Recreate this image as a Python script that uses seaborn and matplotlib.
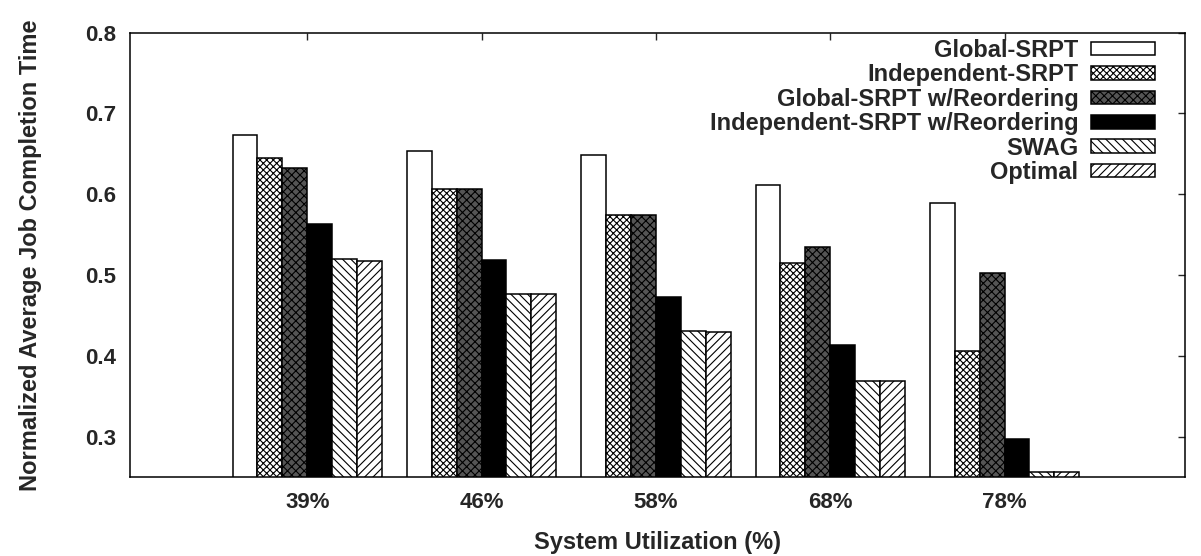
import numpy as np
import pandas as pd
import matplotlib
matplotlib.use('Agg')
import matplotlib.pyplot as plt
import seaborn as sns

# valores
utilization = ['39%', '46%', '58%', '68%', '78%']
methods = ['Global-SRPT', 'Independent-SRPT', 'Global-SRPT w/Reordering',
           'Independent-SRPT w/Reordering', 'SWAG', 'Optimal']
global_srpt = [0.673, 0.654, 0.649, 0.612, 0.589]
independent_srpt = [0.645, 0.607, 0.574, 0.515, 0.406]
global_reorder = [0.632, 0.607, 0.574, 0.535, 0.503]
independent_reorder = [0.563, 0.518, 0.473, 0.414, 0.297]
swag = [0.520, 0.476, 0.431, 0.369, 0.256]
optimal = [0.517, 0.476, 0.429, 0.369, 0.256]
series = [global_srpt, independent_srpt, global_reorder,
          independent_reorder, swag, optimal]

rows = []
for m, vals in zip(methods, series):
    for u, v in zip(utilization, vals):
        rows.append({'Utilization': u, 'Method': m, 'Value': v})
df = pd.DataFrame(rows)

face_colors = {'Global-SRPT': 'white', 'Independent-SRPT': 'white',
               'Global-SRPT w/Reordering': '#555555',
               'Independent-SRPT w/Reordering': 'black',
               'SWAG': 'white', 'Optimal': 'white'}
hatches = ['', 'xxxxx', 'xxxx', '', '\\\\\\\\', '////']

sns.set_style('white')
plt.rcParams['font.family'] = ['Liberation Sans', 'DejaVu Sans']
plt.rcParams['font.weight'] = 'bold'
plt.rcParams['axes.labelweight'] = 'bold'
plt.rcParams['hatch.linewidth'] = 0.8

fig = plt.figure(figsize=(12.01, 5.56), dpi=100)
ax = fig.add_axes([0.1082, 0.1421, 0.8785, 0.7991])

sns.barplot(data=df, x='Utilization', y='Value', hue='Method',
            order=utilization, hue_order=methods, palette=face_colors,
            width=6 / 7, edgecolor='black', linewidth=1.1, saturation=1,
            errorbar=None, ax=ax)

for cont, h in zip(ax.containers, hatches):
    for p in cont:
        p.set_hatch(h)
        p.set_edgecolor('black')

ax.set_xlim(-1.017, 5.035)
ax.set_ylim(0.25, 0.8)
yt = [0.3, 0.4, 0.5, 0.6, 0.7, 0.8]
ax.set_yticks(yt)
ax.set_yticklabels([f'{v:.1f}' for v in yt])
ax.tick_params(direction='in', top=True, right=True, length=5, width=1,
               labelsize=16)
ax.tick_params(axis='x', pad=11)
ax.tick_params(axis='y', pad=10)
for s in ax.spines.values():
    s.set_visible(True)
    s.set_linewidth(1.1)
    s.set_color('black')

ax.set_xlabel('System Utilization (%)', fontsize=17, labelpad=13)
ax.set_ylabel('Normalized Average Job Completion Time', fontsize=17, labelpad=31)

handles = [cont.patches[0] for cont in ax.containers]
ax.legend(handles, methods, loc='upper right', bbox_to_anchor=(0.9716, 0.986),
          markerfirst=False, frameon=False, borderpad=0, borderaxespad=0,
          handlelength=65 / 24, handleheight=12 / 24, handletextpad=13 / 24,
          labelspacing=0.06, fontsize=17)

fig.savefig('out.png', dpi=100)
